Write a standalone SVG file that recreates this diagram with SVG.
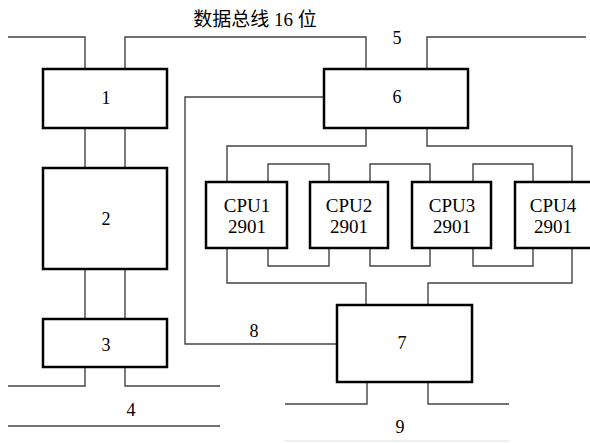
<svg xmlns="http://www.w3.org/2000/svg" width="590" height="443" viewBox="0 0 590 443">
<style>
.box{fill:#fff;stroke:#000;stroke-width:2.5}
.ln{fill:none;stroke:#444;stroke-width:1.4}
.t{font-family:"Liberation Serif","Noto Sans CJK SC",serif;font-size:18px;fill:#000;text-anchor:middle}
.c{font-family:"Liberation Serif",serif;font-size:19px;fill:#000;text-anchor:middle}
</style>
<rect width="590" height="443" fill="#fff"/>
<g id="connectors">
<polyline class="ln" points="8,37 85,37 85,69"/>
<polyline class="ln" points="125,69 125,37 366,37 366,69"/>
<polyline class="ln" points="427,69 427,37 586,37"/>
<line class="ln" x1="85" y1="128" x2="85" y2="168"/>
<line class="ln" x1="125" y1="128" x2="125" y2="168"/>
<line class="ln" x1="85" y1="269" x2="85" y2="319"/>
<line class="ln" x1="125" y1="269" x2="125" y2="319"/>
<polyline class="ln" points="85,367 85,386 8,386"/>
<polyline class="ln" points="125,367 125,386 220,386"/>
<line class="ln" x1="8" y1="426" x2="220" y2="426"/>
<polyline class="ln" points="324,97 185,97 185,344 337,344"/>
<polyline class="ln" points="366,128 366,146 227,146 227,182"/>
<polyline class="ln" points="427,128 427,146 572,146 572,182"/>
<polyline class="ln" points="268,182 268,164 329,164 329,182"/>
<polyline class="ln" points="370,182 370,164 430,164 430,182"/>
<polyline class="ln" points="473,182 473,164 533,164 533,182"/>
<polyline class="ln" points="268,248 268,266 329,266 329,248"/>
<polyline class="ln" points="370,248 370,266 430,266 430,248"/>
<polyline class="ln" points="473,248 473,266 533,266 533,248"/>
<polyline class="ln" points="227,248 227,283 366,283 366,305"/>
<polyline class="ln" points="572,248 572,283 428,283 428,305"/>
<polyline class="ln" points="367,382 367,404 285,404"/>
<polyline class="ln" points="428,382 428,404 509,404"/>
<line x1="285" y1="441" x2="509" y2="441" stroke="#ddd" stroke-width="1"/>
</g>
<text class="t" x="255" y="26" style="font-size:19px">数据总线 16 位</text>
<text class="t" x="397" y="44">5</text>
<text class="t" x="131" y="416">4</text>
<text class="t" x="254" y="337">8</text>
<text class="t" x="400" y="433">9</text>
<g id="n1"><rect class="box" x="43" y="69" width="124" height="59"/><text class="t" x="106" y="104">1</text></g>
<g id="n2"><rect class="box" x="43" y="168" width="124" height="101"/><text class="t" x="106" y="225">2</text></g>
<g id="n3"><rect class="box" x="43" y="319" width="124" height="48"/><text class="t" x="106" y="351">3</text></g>
<g id="n6"><rect class="box" x="324" y="69" width="144" height="59"/><text class="t" x="397" y="103">6</text></g>
<g id="n7"><rect class="box" x="337" y="305" width="135" height="77"/><text class="t" x="402" y="349">7</text></g>
<g id="cpu1"><rect class="box" x="206" y="182" width="81" height="66"/><text class="c" x="247" y="212">CPU1</text><text class="c" x="247" y="233">2901</text></g>
<g id="cpu2"><rect class="box" x="310" y="182" width="78" height="66"/><text class="c" x="349" y="212">CPU2</text><text class="c" x="349" y="233">2901</text></g>
<g id="cpu3"><rect class="box" x="412" y="182" width="79" height="66"/><text class="c" x="452" y="212">CPU3</text><text class="c" x="452" y="233">2901</text></g>
<g id="cpu4"><rect class="box" x="515" y="182" width="80" height="66"/><text class="c" x="553" y="212">CPU4</text><text class="c" x="553" y="233">2901</text></g>
</svg>
